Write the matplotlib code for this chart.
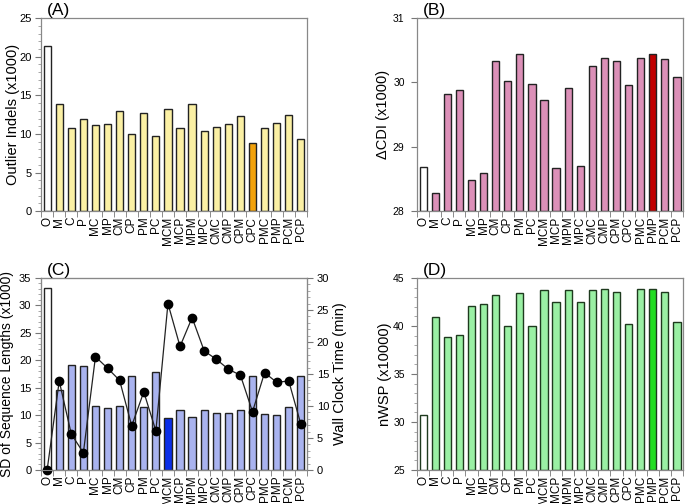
import matplotlib
matplotlib.use('Agg')
import matplotlib.pyplot as plt
import numpy as np
from matplotlib.ticker import MultipleLocator, FixedLocator

plt.rcParams['font.family'] = ['Liberation Sans', 'DejaVu Sans']

# categories
labels = ["O", "M", "C", "P", "MC", "MP", "CM", "CP", "PM", "PC", "MCM", "MCP",
          "MPM", "MPC", "CMC", "CMP", "CPM", "CPC", "PMC", "PMP", "PCM", "PCP"]

# (A) outlier indels (x1000)
indels = [21.4, 13.9, 10.8, 12.0, 11.2, 11.25, 12.95, 9.97, 12.75, 9.75, 13.2, 10.8,
          13.9, 10.36, 10.96, 11.27, 12.35, 8.84, 10.8, 11.4, 12.43, 9.36]
# (B) delta CDI (x1000)
cdi = [28.68, 28.29, 29.82, 29.89, 28.48, 28.60, 30.33, 30.03, 30.45, 29.98, 29.73, 28.67,
       29.91, 28.70, 30.26, 30.38, 30.33, 29.96, 30.38, 30.45, 30.36, 30.09]
# (C) SD of sequence lengths (x1000) and wall clock time (min)
sd_len = [33.1, 14.6, 19.1, 19.0, 11.65, 11.3, 11.65, 17.15, 11.4, 17.9, 9.5, 10.9,
          9.7, 10.9, 10.4, 10.3, 10.9, 17.15, 10.2, 10.0, 11.4, 17.15]
wall_time = [0.0, 13.9, 5.6, 2.7, 17.7, 15.9, 14.0, 6.9, 12.2, 6.1, 26.0, 19.3,
             23.8, 18.6, 17.3, 15.75, 14.8, 9.1, 15.2, 13.7, 13.9, 7.15]
# (D) nWSP (x10000)
nwsp = [30.74, 40.95, 38.8, 39.05, 42.1, 42.3, 43.2, 39.95, 43.4, 39.95, 43.7, 42.5,
        43.75, 42.45, 43.7, 43.8, 43.5, 40.2, 43.8, 43.9, 43.5, 40.4]

x = np.arange(len(labels))


def bar_colors(base, hi, hi_label):
    cols = [base] * len(labels)
    cols[0] = 'white'
    cols[labels.index(hi_label)] = hi
    return cols


def style_axis(ax):
    ax.set_xlim(-0.5, len(labels) - 0.5)
    ax.set_xticks(x)
    ax.set_xticklabels(labels, rotation=90, fontsize=8.5)
    ax.tick_params(axis='x', which='major', length=0, pad=4)
    ax.xaxis.set_minor_locator(FixedLocator(np.arange(-0.5, len(labels), 1.0)))
    ax.tick_params(axis='x', which='minor', length=4, color='#777777', direction='out')
    ax.tick_params(axis='y', which='major', length=4, color='#777777', labelsize=8, pad=3)
    ax.tick_params(axis='y', which='minor', length=2, color='#999999')
    for s in ax.spines.values():
        s.set_color('#888888')
        s.set_linewidth(0.9)


fig = plt.figure(figsize=(6.85, 5.04), dpi=100)

# (A)
axA = fig.add_axes([0.060, 0.581, 0.388, 0.383])
axA.bar(x, indels, width=0.6, color=bar_colors('#fbf0a4', '#f2a20c', 'CPC'),
        edgecolor='#222222', linewidth=1.0)
axA.set_ylim(0, 25)
axA.yaxis.set_major_locator(MultipleLocator(5))
axA.yaxis.set_minor_locator(MultipleLocator(1))
axA.set_ylabel('Outlier Indels (x1000)', fontsize=10.5)
axA.yaxis.set_label_coords(-0.078, 0.5)
style_axis(axA)
axA.text(0.02, 1.0, '(A)', transform=axA.transAxes, fontsize=12.5, va='bottom', ha='left')

# (B)
axB = fig.add_axes([0.609, 0.581, 0.388, 0.383])
axB.bar(x, np.array(cdi) - 28, bottom=28, width=0.6,
        color=bar_colors('#dc90b8', '#c00000', 'PMP'), edgecolor='#222222', linewidth=1.0)
axB.set_ylim(28, 31)
axB.yaxis.set_major_locator(MultipleLocator(1))
axB.set_ylabel('\u0394CDI (x1000)', fontsize=10.5)
axB.yaxis.set_label_coords(-0.101, 0.5)
style_axis(axB)
axB.tick_params(axis='y', which='major', labelsize=7.5, pad=5)
axB.text(0.02, 1.0, '(B)', transform=axB.transAxes, fontsize=12.5, va='bottom', ha='left')

# (C)
axC = fig.add_axes([0.060, 0.0675, 0.388, 0.381])
axC.bar(x, sd_len, width=0.6, color=bar_colors('#a9b3ef', '#0a2ee8', 'MCM'),
        edgecolor='#222222', linewidth=1.0)
axC.set_ylim(0, 35)
axC.yaxis.set_major_locator(MultipleLocator(5))
axC.yaxis.set_minor_locator(MultipleLocator(1))
axC.set_ylabel('SD of Sequence Lengths (x1000)', fontsize=10)
axC.yaxis.set_label_coords(-0.103, 0.5)
style_axis(axC)
axC.text(0.02, 1.0, '(C)', transform=axC.transAxes, fontsize=12.5, va='bottom', ha='left')

axC2 = axC.twinx()
axC2.plot(x, wall_time, color='#222222', linewidth=0.9, marker='o',
          markersize=6, markerfacecolor='black', markeredgecolor='black', clip_on=False)
axC2.set_ylim(0, 30)
axC2.yaxis.set_major_locator(MultipleLocator(5))
axC2.yaxis.set_minor_locator(MultipleLocator(1))
axC2.set_ylabel('Wall Clock Time (min)', fontsize=10.5)
axC2.yaxis.set_label_coords(1.098, 0.5)
axC2.tick_params(axis='y', which='major', length=4, color='#777777', labelsize=8, pad=3)
axC2.tick_params(axis='y', which='minor', length=2, color='#999999')
for s in axC2.spines.values():
    s.set_color('#888888')

# (D)
axD = fig.add_axes([0.609, 0.0675, 0.388, 0.381])
axD.bar(x, np.array(nwsp) - 25, bottom=25, width=0.6,
        color=bar_colors('#9af0a4', '#22dd22', 'PMP'), edgecolor='#1e3a1e', linewidth=1.0)
axD.set_ylim(25, 45)
axD.yaxis.set_major_locator(MultipleLocator(5))
axD.yaxis.set_minor_locator(MultipleLocator(1))
axD.set_ylabel('nWSP (x10000)', fontsize=10.5)
axD.yaxis.set_label_coords(-0.094, 0.5)
style_axis(axD)
axD.tick_params(axis='y', which='major', labelsize=7.5, pad=5)
axD.text(0.02, 1.0, '(D)', transform=axD.transAxes, fontsize=12.5, va='bottom', ha='left')

fig.savefig('out.png', dpi=100)
